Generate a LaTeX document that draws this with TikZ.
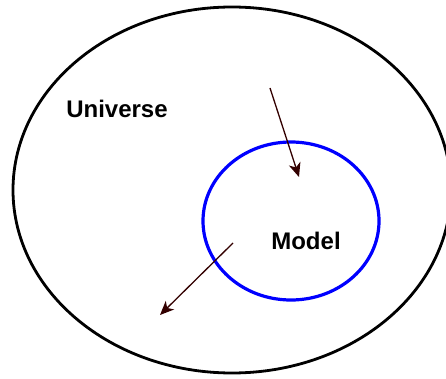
\documentclass[tikz,border=0pt]{standalone}
\usepackage{fontspec}
\setmainfont{Liberation Sans}
\usepackage{xcolor}
\usepackage{tikz}
\usetikzlibrary{shapes.geometric,arrows.meta}
\definecolor{darkbrown}{RGB}{51,0,0}
\definecolor{modelblue}{RGB}{0,0,255}

\begin{document}
\begin{tikzpicture}[
    x=1pt, y=-1pt,
    set/.style={ellipse, draw, inner sep=0pt},
    label/.style={font=\fontsize{24}{28}\selectfont\bfseries, inner sep=0pt},
    arrow/.style={->, line width=1.3pt, draw=darkbrown,
                  >={Stealth[length=14pt, width=12pt, inset=4pt]}}
]
    \useasboundingbox (0,0) rectangle (446,379);
    \node[set, line width=2.8pt, minimum width=438pt, minimum height=366pt] (universe) at (232,190) {};
    \node[set, draw=modelblue, line width=3.2pt, minimum width=176pt, minimum height=158pt] (model) at (291,221) {};
    \node[label] (universetext) at (117,109) {Universe};
    \node[label] (modeltext) at (306,241) {Model};

    \coordinate (inA) at (270,88);
    \coordinate (inB) at (299,177);
    \coordinate (outA) at (233,243);
    \coordinate (outB) at (160,315);
    \draw[arrow] (inA) -- (inB);
    \draw[arrow] (outA) -- (outB);
\end{tikzpicture}
\end{document}
